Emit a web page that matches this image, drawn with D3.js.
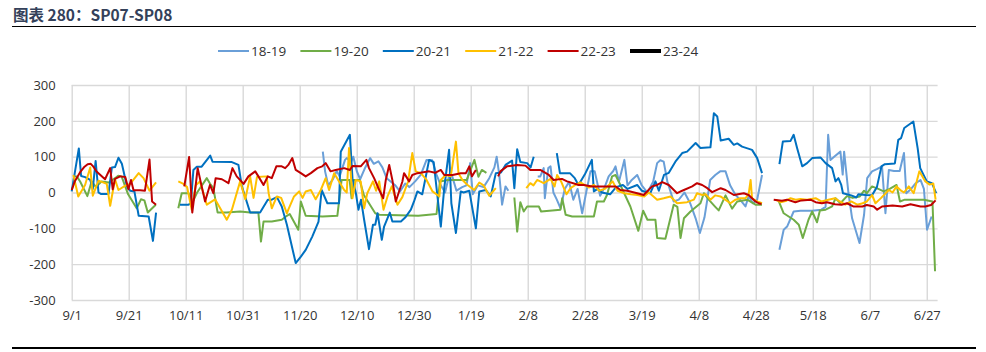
<!DOCTYPE html>
<html><head><meta charset="utf-8">
<script src="https://cdn.jsdelivr.net/npm/d3@7/dist/d3.min.js"></script>
<style>
html,body{margin:0;padding:0;background:#fff;}
svg{display:block;}
</style></head>
<body>
<svg id="chart" width="986" height="352"></svg>
<script>
// ---- data (x = days since 9/1, leap-year calendar; null = gap) ----
const tickDays = [0,20,40,60,80,100,120,140,160,180,200,220,240,260,280,300];
const tickLabels = ["9/1","9/21","10/11","10/31","11/20","12/10","12/30","1/19","2/8","2/28","3/19","4/8","4/28","5/18","6/7","6/27"];
const yTicks = [-300,-200,-100,0,100,200,300];
const seriesNames = ["18-19","19-20","20-21","21-22","22-23","23-24"];

const s1819 = [[88.1,114],[88.9,59],[90,20],[91.5,35],[93,60],[94,45],[95.9,91],[96.5,96],[98,85],[98.8,100],[100,60],[101.2,37],[103,70],[104.7,96],[106,80],[107.6,87],[109,70],[110.5,40],[112,30],[113.4,21],[115.2,3],[117,25],[118.5,15],[120.5,31],[122.5,50],[124.5,91],[126.5,90],[128,50],[129.5,20],[131,0],[132.5,50],[133.5,45],[135,5],[137,15],[138.5,20],[139.8,82],[140.7,-5],[142.5,20],[144.5,15],[146.5,40],[148.3,70],[149.1,100],[150,50],[151,-34],[152.2,17],[153.2,5],[155,null],
[163.5,45],[164.4,45],[165.6,68],[166,-16],[167.2,68],[168,73],[169,0],[170.2,-20],[171.5,-44],[173,10],[174.5,30],[176,-20],[177.5,10],[179.1,-58],[180.5,0],[182,59],[183.5,59],[185.4,-9],[187,15],[188.4,45],[190,60],[190.8,73],[192,30],[193.9,91],[195,20],[196.5,35],[198.4,49],[200,20],[202,0],[204,30],[205.4,82],[206.5,90],[207.7,86],[209,30],[210,5],[211.2,-25],[213,-20],[215,0],[217,-30],[218.9,-72],[220.4,-113],[222,-70],[223,-20],[224,35],[225.8,49],[227.5,59],[229.4,59],[231,20],[232.9,-7],[234.5,-20],[236.4,-39],[237.5,-10],[239,-30],[240.5,-20],[242.2,49],[245,null],
[248.3,-160],[249.8,-104],[251,-95],[253.3,-53],[255.7,-51],[259.8,-51],[263,-48],[264.5,-40],[265.4,161],[266.2,91],[267.5,100],[269.7,114],[270.5,50],[271,114],[272.5,0],[273.8,-72],[276.4,-141],[278,-62],[279.1,40],[280.8,59],[282.5,65],[284.3,73],[285.5,-58],[286.7,63],[288.5,60],[290.5,60],[292,110],[292.8,-2],[294.5,10],[296,25],[297.8,35],[299,10],[300.1,-104],[301.7,-67]];

const s1920 = [[1,45],[1.8,45],[3,30],[5.5,-10],[7,31],[8.5,15],[10.5,31],[13,28],[15.2,40],[16.3,47],[17.5,45],[19.8,-5],[22.8,-44],[24.3,-19],[25.5,-22],[26.7,-56],[29.5,-34],[33,null],
[37.4,-44],[38.6,-2],[41,-2],[42.5,-25],[44,0],[47.4,40],[48.5,25],[49.7,12],[51.2,-56],[54.4,-56],[59.1,-53],[62.6,-56],[65.5,-56],[66.4,-137],[67.3,-81],[70.2,-81],[73.7,-76],[75.5,-65],[76.5,-60],[79.5,-104],[80.4,-25],[82.1,-65],[88,-67],[93.2,-65],[94.7,35],[97.5,35],[98.2,-16],[99,35],[101,35],[102.5,-7],[106.5,-58],[108,-62],[121.6,-65],[128,-60],[129.2,31],[132,35],[138.6,35],[141.3,91],[142.7,44],[143.9,63],[145.5,55],[149,null],
[155.3,-14],[156.3,-109],[157.4,-27],[158.6,-53],[159.8,-39],[163.9,-39],[164.7,-53],[171.5,-48],[172.1,-16],[173.3,-62],[175.6,-67],[183.2,-67],[184.3,-25],[186.7,-25],[187.8,-7],[189.6,45],[190.8,49],[192.5,21],[196,-39],[198.8,-107],[200.5,-51],[202,-76],[204.8,-76],[205.4,-127],[208.3,-129],[211.2,-34],[212.5,-40],[213.6,-127],[214.8,-72],[217.1,-53],[220.6,-30],[221.8,-2],[223.5,-20],[225.8,-40],[227,-50],[229.4,-8],[231.7,-45],[233.5,-25],[237,-20],[239.9,-34],[242.2,-34],[245,null],
[248.1,-25],[249.8,-58],[253.3,-76],[255.1,-90],[256.5,-127],[258.5,-76],[259.8,-53],[261.5,-83],[262.5,-50],[264.5,-48],[266.8,-39],[268,-16],[269.7,-30],[272,-10],[274,-15],[276.5,-11],[278,5],[279,-2],[280.8,17],[283,10],[284.9,3],[287,10],[289.4,21],[290.6,-25],[292.3,-20],[296,-20],[299,-20],[302,-25],[302.9,-220]];

const s2021 = [[0,3],[2.5,123],[3.3,46],[4.7,43],[6.5,35],[7.4,10],[8.4,88],[9.4,0],[10.2,-4],[12.9,-4],[14.1,70],[15.2,71],[16.4,97],[17.6,80],[19.4,17],[20.5,5],[22,3],[23.5,-65],[27,-67],[28.5,-135],[29.6,-56],[33,null],
[38,-34],[41,-34],[41.8,-30],[42.7,63],[43.9,72],[45.6,72],[48.6,103],[49.4,86],[56.2,85],[58.5,77],[59.7,17],[62.6,-56],[66.1,-56],[68.8,-20],[70.2,-20],[72,-13],[73.7,-39],[75.5,-90],[78.6,-197],[80.4,-179],[82.1,-160],[84.4,-123],[86.6,-81],[87.7,7],[89.7,-30],[93.8,-30],[94.4,114],[97.6,161],[98.5,40],[99.7,-2],[100.6,-48],[101.5,-20],[102.6,-76],[104.3,-158],[105.7,-90],[106.5,-90],[107.3,-58],[108.8,-132],[109.6,-95],[111.6,-56],[112.5,-81],[115.5,-81],[117,-70],[119,-48],[120.1,-25],[121.3,3],[123,-5],[125.4,91],[127,85],[129.5,-95],[130.7,12],[132.4,119],[133.2,-30],[134.8,-113],[136.5,3],[137.5,0],[139.5,5],[141.8,-100],[143,3],[145.3,7],[147,-11],[148.8,54],[150.6,56],[152.2,77],[154.5,89],[155.3,12],[156.3,121],[157.4,85],[159.8,82],[161,70],[162.1,100],[165,null],
[170.2,110],[171.3,54],[174.8,54],[176.5,40],[177.8,21],[180,50],[182.5,91],[183.2,3],[184.5,10],[186,0],[188.9,-5],[191,15],[193.4,21],[195,10],[198.4,21],[200,5],[203,-2],[204.8,31],[206,5],[207.8,49],[209.5,55],[211.8,86],[214.2,110],[215.9,114],[218.9,138],[220.6,124],[224.1,126],[225.3,221],[226.5,212],[227.7,145],[230.5,150],[232.3,133],[233.5,137],[235.2,128],[238.7,119],[240.5,96],[242.2,54],[245,null],
[248.3,79],[249.5,142],[252.2,144],[253.3,161],[254.5,124],[256.3,73],[258,82],[259.8,96],[262.7,98],[264.5,82],[266.8,68],[268,31],[269,40],[270,21],[270.6,-2],[273.5,-8],[275.3,-14],[276,-5],[278.5,-7],[280.8,-8],[282.5,15],[284.1,73],[285.3,79],[288.8,81],[290,147],[291,152],[292.1,180],[295.3,198],[296.8,124],[297.7,68],[300,31],[301.8,26],[303.3,-2]];

const s2122 = [[0.6,49],[2.3,-11],[4.7,21],[6.5,70],[7.4,-9],[9.4,33],[12.3,24],[13.5,-37],[15.2,37],[16.4,7],[18.8,19],[20.5,24],[23.5,54],[25.2,40],[27.3,5],[29.6,28],[33,null],
[37.4,31],[39.2,24],[40.5,15],[42.1,-48],[43.5,20],[45,31],[47.4,-34],[50.3,-19],[54.4,-76],[56.2,-48],[59.1,31],[60.9,-19],[62.6,45],[63.8,-15],[65,43],[68.4,45],[69.1,-2],[70.2,-44],[72,-11],[73.5,-15],[75.5,-58],[76,-48],[78,-11],[79.8,3],[81,-15],[82.1,3],[83.9,7],[85.6,-19],[87.4,7],[89.1,40],[90.3,7],[92.1,54],[93.8,31],[95.6,7],[96.5,0],[97.3,124],[98.5,-16],[99.7,35],[101.4,31],[102.6,-44],[103.7,-2],[105.7,31],[106.8,5],[107.9,31],[109.4,-48],[110.8,-11],[112.3,17],[114.3,-34],[116,-13],[118,30],[119.5,110],[120.7,59],[122.5,54],[124.5,35],[126.6,3],[129,-11],[129.5,35],[131.2,49],[133,45],[134.8,142],[135.7,54],[137.1,35],[138.9,21],[141.2,7],[143,28],[144.5,20],[146.5,-9],[148.8,12],[152,null],
[159.5,12],[160.9,26],[162,20],[163.3,35],[165.6,26],[168,38],[169.4,17],[170.3,49],[171.7,31],[173.6,-5],[175,12],[176.7,21],[178.5,28],[181.4,14],[183.2,21],[185,5],[187,10],[189.8,31],[191.5,5],[193.9,-2],[196.2,-5],[198.5,-7],[200.9,-11],[202.5,0],[205.4,-20],[207.7,-16],[210.1,-11],[212.4,-30],[215.9,-27],[218.3,-20],[219.4,-2],[221.2,-7],[222.5,-5],[224.1,-20],[225.8,-8],[227.6,-11],[231.1,-30],[232.9,-20],[234.6,-16],[236.4,-16],[237.5,-5],[238.2,35],[238.7,-16],[240.5,-25],[242.2,-30],[244,null],
[246.9,-20],[248.7,-27],[250.5,-24],[252.2,-16],[254,-20],[255.7,-18],[258,-20],[261,-16],[263,-25],[265.5,-20],[267.8,-16],[269.5,-25],[271.4,-34],[273.5,-25],[275.6,-34],[277.5,-30],[279,-25],[280.8,-7],[282,-30],[284,-15],[286.7,7],[288,0],[289.4,17],[291,5],[292,0],[293.7,17],[295.4,-2],[297.4,59],[299.5,31],[301,22],[302.3,25],[303.1,-20]];

const s2223 = [[0,7],[1.2,33],[2.9,56],[4.5,72],[5.6,79],[6.7,80],[7.6,72],[8.8,58],[11.7,37],[13.5,68],[14.4,9],[15.2,38],[17,45],[18.8,43],[19.9,9],[20.8,35],[21.7,6],[24,6],[25.7,5],[27.3,92],[28.2,-25],[29.6,-34],[33,null],
[39.5,17],[41.2,99],[42.3,-56],[43.5,20],[44.2,68],[45.6,17],[46.8,-25],[48.5,21],[49.7,-2],[50.5,40],[52.7,37],[55,26],[56.4,68],[57.9,45],[60.3,24],[62,45],[64.4,59],[65.5,45],[67.3,21],[68.8,45],[70.2,40],[71.8,73],[73.7,73],[74.9,68],[76,77],[77.4,96],[78.6,63],[80.4,54],[82.1,45],[83.9,54],[86.2,68],[87.9,73],[89.1,82],[90.8,59],[92.6,63],[95.6,68],[97.6,63],[98.5,74],[101.4,73],[103.4,91],[104.3,68],[106.1,40],[107.9,7],[109.3,-16],[110.2,35],[111.4,77],[112.5,35],[113.7,-25],[116,30],[116.6,54],[118.4,31],[119.5,49],[121.3,54],[125.4,59],[127.5,55],[129.5,63],[130.7,49],[133.6,49],[136.5,54],[138.3,54],[139.5,73],[140.4,45],[141.8,63],[145,null],
[149.6,45],[150.4,59],[152.7,73],[156.3,77],[159.2,75],[160.9,63],[164.4,63],[167.4,49],[169.1,35],[172,38],[173.8,31],[177.9,21],[179.7,21],[182.6,17],[186.7,17],[190.8,17],[192.5,7],[194.9,5],[198.4,-2],[200.7,-7],[203.6,17],[205.4,21],[207.2,29],[209.5,21],[212.4,-2],[214.2,5],[217.7,17],[219.4,26],[221.2,21],[223,12],[224.7,1],[227.7,12],[229.4,7],[232.3,-7],[235.8,-2],[237.5,-7],[239.9,-25],[241,-30],[242,-32],[244,null],
[246.3,-20],[249.2,-23],[251,-20],[253.9,-27],[256,-22],[259.2,-20],[261,-27],[263.2,-30],[265,-27],[267.8,-33],[270.1,-34],[272,-30],[274.2,-39],[277.4,-39],[279,-35],[281.4,-39],[282.6,-48],[284.3,-39],[288,-36],[291.4,-39],[294.3,-33],[297.8,-39],[299.5,-39],[301.5,-35],[303.1,-22]];

const s2324 = [];

const seriesData = [s1819, s1920, s2021, s2122, s2223, s2324];
const seriesColors = ["#6a9fd8","#70ad47","#0070c0","#ffc000","#c00000","#000000"];

// ---- drawing ----
const svg = d3.select("#chart");
const font = "'Open Sans', 'Noto Sans', sans-serif";

svg.append("text").attr("x", 13).attr("y", 20.5)
  .attr("font-family", "'Noto Sans CJK SC', sans-serif").attr("font-weight", "bold")
  .attr("font-size", 15.5).attr("fill", "#34415a").text("图表 280：SP07-SP08");
svg.append("line").attr("x1", 12).attr("x2", 976).attr("y1", 26.5).attr("y2", 26.5)
  .attr("stroke", "#000").attr("stroke-width", 1.2);
svg.append("line").attr("x1", 12).attr("x2", 976).attr("y1", 348).attr("y2", 348)
  .attr("stroke", "#000").attr("stroke-width", 2.2);

const x = d3.scaleLinear().domain([0, 303.8]).range([71.7, 937.6]);
const y = d3.scaleLinear().domain([-300, 300]).range([300, 85]);

// grid
const gy = svg.append("g").attr("transform", "translate(71.7,0)")
  .call(d3.axisLeft(y).tickValues(yTicks).tickSize(-(937.6 - 71.7)).tickPadding(16).tickFormat(d => String(d)));
gy.select(".domain").remove();
gy.selectAll(".tick line").attr("stroke", "#d9d9d9").attr("stroke-width", 1.4);
gy.selectAll(".tick text").attr("font-family", font).attr("font-size", 13).attr("fill", "#333");

const gx = svg.append("g").attr("transform", "translate(0,300)")
  .call(d3.axisBottom(x).tickValues(tickDays).tickSize(-(300 - 85)).tickPadding(11)
    .tickFormat((d, i) => tickLabels[i]));
gx.select(".domain").remove();
gx.selectAll(".tick line").attr("stroke", "#d9d9d9").attr("stroke-width", 1.4);
gx.selectAll(".tick text").attr("font-family", font).attr("font-size", 13).attr("fill", "#333");

// series lines
const line = d3.line().defined(d => d[1] !== null).x(d => x(d[0])).y(d => y(d[1]));
seriesData.forEach((data, i) => {
  svg.append("path").datum(data).attr("d", line)
    .attr("fill", "none").attr("stroke", seriesColors[i])
    .attr("stroke-width", i === 5 ? 4 : 2).attr("stroke-linejoin", "round");
});

// legend
const lg = svg.append("g");
seriesNames.forEach((name, i) => {
  const lx = 218 + i * 82.4;
  lg.append("line").attr("x1", lx).attr("x2", lx + 31).attr("y1", 51).attr("y2", 51)
    .attr("stroke", seriesColors[i]).attr("stroke-width", i === 5 ? 4 : 2);
  lg.append("text").attr("x", lx + 33).attr("y", 55.5).attr("font-family", font)
    .attr("font-size", 13.5).attr("fill", "#333").text(name);
});
</script>
</body></html>
